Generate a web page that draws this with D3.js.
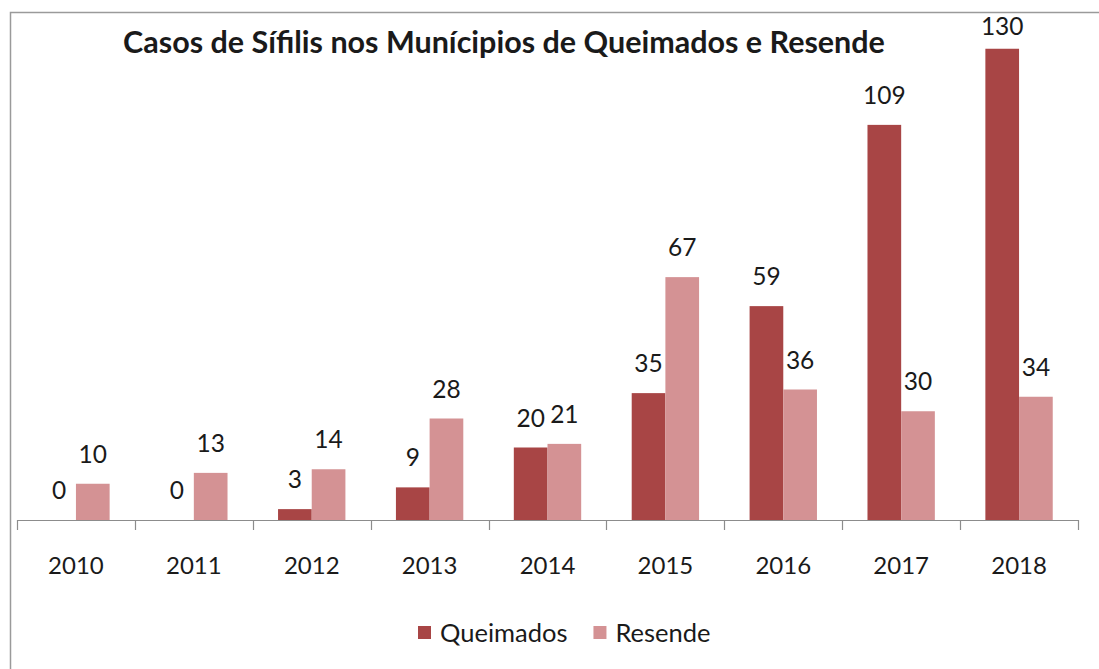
<!DOCTYPE html>
<html>
<head>
<meta charset="utf-8">
<style>
  body { margin: 0; background: #fff; }
  text { font-family: Lato, "Open Sans", sans-serif; fill: #1a1a1a; }
</style>
</head>
<body>
<svg width="1099" height="669"></svg>
<script src="https://d3js.org/d3.v7.min.js"></script>
<script>

var years = ["2010", "2011", "2012", "2013", "2014", "2015", "2016", "2017", "2018"];
var seriesNames = ["Queimados", "Resende"];
var queimados = [0, 0, 3, 9, 20, 35, 59, 109, 130];
var resende = [10, 13, 14, 28, 21, 67, 36, 30, 34];
var colors = ["#a84545", "#d49294"];
var title = "Casos de Sífilis nos Munícipios de Queimados e Resende";

var svg = d3.select("svg");

// chart frame (cropped on right and bottom in the original)
svg.append("path")
    .attr("d", "M10.5,700 L10.5,12.5 L1110,12.5")
    .attr("fill", "none")
    .attr("stroke", "#9a9a9a")
    .attr("stroke-width", 1.5);

var x = d3.scaleBand()
    .domain(years)
    .range([17, 1078]);

var xInner = d3.scaleBand()
    .domain(seriesNames)
    .range([0, x.bandwidth() * 2 / 3.5]);

var y = d3.scaleLinear()
    .domain([0, 140])
    .range([520, 12.5]);

var data = years.map(function(yr, i) {
  return { year: yr, values: [queimados[i], resende[i]] };
});

var g = svg.append("g");

var groups = g.selectAll("g.year")
  .data(data)
  .enter().append("g")
    .attr("class", "year")
    .attr("transform", function(d) {
      return "translate(" + (x(d.year) + x.bandwidth() * 0.75 / 3.5) + ",0)";
    });

groups.selectAll("rect")
  .data(function(d) { return d.values.map(function(v, j) { return { key: seriesNames[j], value: v, j: j }; }); })
  .enter().append("rect")
    .attr("x", function(d) { return xInner(d.key); })
    .attr("width", xInner.bandwidth())
    .attr("y", function(d) { return y(d.value); })
    .attr("height", function(d) { return y(0) - y(d.value); })
    .attr("fill", function(d) { return colors[d.j]; });

groups.selectAll("text")
  .data(function(d) { return d.values.map(function(v, j) { return { key: seriesNames[j], value: v }; }); })
  .enter().append("text")
    .attr("x", function(d) { return xInner(d.key) + xInner.bandwidth() / 2; })
    .attr("y", function(d) { return Math.max(y(d.value) - 21, 35); })
    .attr("text-anchor", "middle")
    .style("font-size", "24.5px")
    .text(function(d) { return d.value; });

// x axis
var axis = g.append("g")
    .attr("transform", "translate(0," + y(0) + ")")
    .call(d3.axisBottom(x).tickSize(0).tickPadding(0));

axis.select(".domain").remove();
axis.selectAll("text")
    .attr("y", 54)
    .attr("dy", null)
    .style("font-size", "24px")
    .attr("fill", "#1a1a1a");

g.append("line")
    .attr("x1", x.range()[0]).attr("x2", x.range()[1])
    .attr("y1", y(0) + 0.5).attr("y2", y(0) + 0.5)
    .attr("stroke", "#8c8c8c")
    .attr("stroke-width", 1.2);

var bounds = years.map(function(d) { return x(d); }).concat([x.range()[1]]);
g.selectAll("line.tick-mark")
  .data(bounds)
  .enter().append("line")
    .attr("class", "tick-mark")
    .attr("x1", function(d) { return Math.round(d) + 0.5; })
    .attr("x2", function(d) { return Math.round(d) + 0.5; })
    .attr("y1", y(0))
    .attr("y2", y(0) + 10)
    .attr("stroke", "#8c8c8c")
    .attr("stroke-width", 1.2);

// title
svg.append("text")
    .attr("x", 504)
    .attr("y", 53)
    .attr("text-anchor", "middle")
    .style("font-size", "30.5px")
    .style("font-weight", "bold")
    .attr("fill", "#111")
    .text(title);

// legend
var legend = svg.append("g")
    .attr("transform", "translate(418,633)");

var lx = 0;
seriesNames.forEach(function(name, i) {
  var item = legend.append("g").attr("transform", "translate(" + lx + ",0)");
  item.append("rect")
      .attr("x", 0).attr("y", -7)
      .attr("width", 13).attr("height", 13)
      .attr("fill", colors[i]);
  var t = item.append("text")
      .attr("x", 22)
      .attr("y", 9)
      .style("font-size", "25.5px")
      .text(name);
  lx += 22 + t.node().getComputedTextLength() + 26;
});

</script>
</body>
</html>
